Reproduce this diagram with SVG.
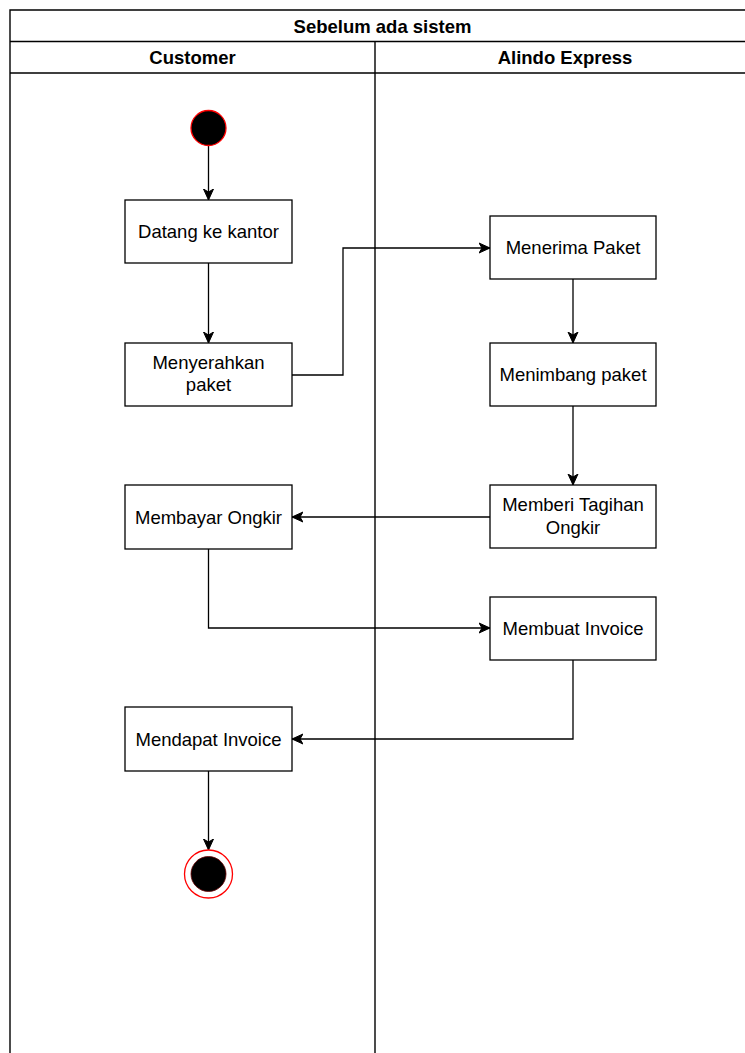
<svg xmlns="http://www.w3.org/2000/svg" width="745" height="1053" viewBox="0 0 745 1053">
<style>
.frame{fill:none;stroke:#000;stroke-width:1.4}
.box{fill:#fff;stroke:#000;stroke-width:1.3}
.lbl{font-family:"Liberation Sans",Arial,Helvetica,sans-serif;font-size:18.5px;fill:#000;text-anchor:middle}
.hdr{font-family:"Liberation Sans",Arial,Helvetica,sans-serif;font-size:18.5px;font-weight:bold;fill:#000;text-anchor:middle}
.edge{fill:none;stroke:#000;stroke-width:1.3}
</style>
<defs>
<marker id="arr" markerUnits="userSpaceOnUse" markerWidth="14" markerHeight="12" refX="11" refY="6" orient="auto">
<path d="M0,1 L11,6 L0,11 L3,6 Z" fill="#000" stroke="#000" stroke-width="1"/>
</marker>
</defs>
<rect width="745" height="1053" fill="#fff"/>
<g id="pool">
<path class="frame" d="M10,1060 L10,10 L760,10 M10,41.5 L760,41.5 M10,73 L760,73 M375,41.5 L375,1060"/>
<text class="hdr" x="382.5" y="32.5">Sebelum ada sistem</text>
<text class="hdr" x="192.5" y="64">Customer</text>
<text class="hdr" x="565" y="64">Alindo Express</text>
</g>
<g id="edges">
<path class="edge" d="M208.5,146 L208.5,200" marker-end="url(#arr)"/>
<path class="edge" d="M208.5,263 L208.5,343" marker-end="url(#arr)"/>
<path class="edge" d="M292,375 L343,375 L343,248 L490,248" marker-end="url(#arr)"/>
<path class="edge" d="M573,279 L573,343" marker-end="url(#arr)"/>
<path class="edge" d="M573,406 L573,485" marker-end="url(#arr)"/>
<path class="edge" d="M490,517 L292,517" marker-end="url(#arr)"/>
<path class="edge" d="M208.5,549 L208.5,628 L490,628" marker-end="url(#arr)"/>
<path class="edge" d="M573,660 L573,739 L292,739" marker-end="url(#arr)"/>
<path class="edge" d="M208.5,771 L208.5,850" marker-end="url(#arr)"/>
</g>
<g id="start">
<circle cx="208.5" cy="128" r="17.5" fill="#000" stroke="#ff0000" stroke-width="1.3"/>
</g>
<g id="datang">
<rect class="box" x="125" y="200" width="167" height="63"/>
<text class="lbl" x="208.5" y="238">Datang ke kantor</text>
</g>
<g id="menyerahkan">
<rect class="box" x="125" y="343" width="167" height="63"/>
<text class="lbl" x="208.5" y="368.5">Menyerahkan</text>
<text class="lbl" x="208.5" y="391">paket</text>
</g>
<g id="menerima">
<rect class="box" x="490" y="216" width="166" height="63"/>
<text class="lbl" x="573" y="254">Menerima Paket</text>
</g>
<g id="menimbang">
<rect class="box" x="490" y="343" width="166" height="63"/>
<text class="lbl" x="573" y="381">Menimbang paket</text>
</g>
<g id="memberi">
<rect class="box" x="490" y="485" width="166" height="63"/>
<text class="lbl" x="573" y="511">Memberi Tagihan</text>
<text class="lbl" x="573" y="533.5">Ongkir</text>
</g>
<g id="membayar">
<rect class="box" x="125" y="485" width="167" height="64"/>
<text class="lbl" x="208.5" y="523.5">Membayar Ongkir</text>
</g>
<g id="membuat">
<rect class="box" x="490" y="597" width="166" height="63"/>
<text class="lbl" x="573" y="635">Membuat Invoice</text>
</g>
<g id="mendapat">
<rect class="box" x="125" y="707" width="167" height="64"/>
<text class="lbl" x="208.5" y="745.5">Mendapat Invoice</text>
</g>
<g id="end">
<circle cx="208.5" cy="874" r="24" fill="#fff" stroke="#ff0000" stroke-width="1.3"/>
<circle cx="208.5" cy="874" r="17.5" fill="#000" stroke="#600" stroke-width="0.8"/>
</g>
</svg>
